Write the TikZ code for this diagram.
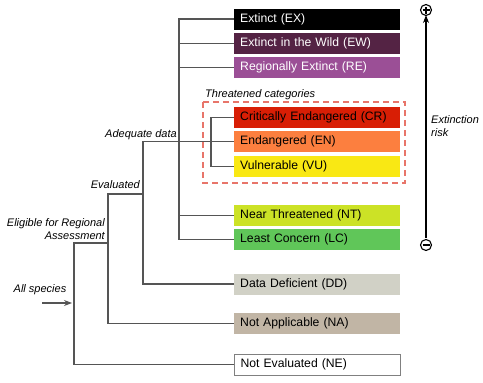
\documentclass[tikz,border=0pt]{standalone}
\usepackage{fontspec}
\setmainfont{Liberation Sans}
\usetikzlibrary{arrows.meta}
\definecolor{cEX}{HTML}{000000}
\definecolor{cEW}{HTML}{542344}
\definecolor{cRE}{HTML}{9B4F96}
\definecolor{cCR}{HTML}{D81E05}
\definecolor{cEN}{HTML}{FC7F3F}
\definecolor{cVU}{HTML}{F9E814}
\definecolor{cNT}{HTML}{CCE226}
\definecolor{cLC}{HTML}{60C659}
\definecolor{cDD}{HTML}{D1D1C6}
\definecolor{cNA}{HTML}{C1B5A5}
\definecolor{cdash}{HTML}{E8756A}
\definecolor{cline}{HTML}{555555}
\tikzset{
  cat/.style={anchor=west, minimum width=166pt, text width=154pt, align=left,
    minimum height=21pt, inner xsep=6pt, inner ysep=0pt,
    font=\fontsize{12.2}{14}\selectfont},
  lbl/.style={font=\fontsize{11}{13}\selectfont\itshape, inner sep=0pt},
  conn/.style={draw=cline, line width=1.1pt},
  sign/.style={circle, draw, line width=1.1pt, minimum size=11pt, inner sep=0pt},
}
\begin{document}
\begin{tikzpicture}[x=1pt,y=-1pt]
\useasboundingbox (0,0) rectangle (483,383);
% category boxes
\node[cat, fill=cEX, text=white] (EX) at (234,19) {Extinct (EX)};
\node[cat, fill=cEW, text=white] (EW) at (234,43.5) {Extinct in the Wild (EW)};
\node[cat, fill=cRE, text=white] (RE) at (234,67.5) {Regionally Extinct (RE)};
\node[cat, fill=cCR] (CR) at (234,117.5) {Critically Endangered (CR)};
\node[cat, fill=cEN] (EN) at (234,141.5) {Endangered (EN)};
\node[cat, fill=cVU] (VU) at (234,166.5) {Vulnerable (VU)};
\node[cat, fill=cNT] (NT) at (234,215.5) {Near Threatened (NT)};
\node[cat, fill=cLC] (LC) at (234,239.5) {Least Concern (LC)};
\node[cat, fill=cDD] (DD) at (234,284) {Data Deficient (DD)};
\node[cat, fill=cNA] (NA) at (234,323.5) {Not Applicable (NA)};
\node[cat, fill=white, draw=gray, line width=1pt] (NE) at (234,364.5) {Not Evaluated (NE)};
% threatened frame
\draw[cdash, line width=1.2pt, dash pattern=on 6pt off 4pt] (203,102) rectangle (405,183);
\node[lbl, anchor=west] (thr) at (205,95) {Threatened categories};
% junction coordinates
\coordinate (adx) at (179,0);
\coordinate (thx) at (211,0);
\coordinate (dvx) at (143,0);
\coordinate (ev) at (108,194);
\coordinate (el) at (74,243);
\coordinate (as) at (42,303);
% tree connectors
\draw[conn] (EX.west) -- (EX.west -| adx) -- (LC.west -| adx) -- (LC.west);
\draw[conn] (EW.west) -- (EW.west -| adx);
\draw[conn] (RE.west) -- (RE.west -| adx);
\draw[conn] (NT.west) -- (NT.west -| adx);
\draw[conn] (CR.west) -- (CR.west -| thx) -- (VU.west -| thx) -- (VU.west);
\draw[conn] (EN.west) -- (EN.west -| dvx) -- (DD.west -| dvx) -- (DD.west);
\draw[conn] (ev -| dvx) -- (ev) -- (NA.west -| ev) -- (NA.west);
\draw[conn] (el -| ev) -- (el) -- (NE.west -| el) -- (NE.west);
\draw[conn, -{Stealth[length=8pt,width=6pt]}, shorten >=2pt] (as) -- (as -| el);
% labels
\node[lbl, anchor=east] (adq) at (177,135) {Adequate data};
\node[lbl, anchor=east] (evl) at (140,185) {Evaluated};
\node[lbl, anchor=east, align=right] (elg) at (105,229) {Eligible for Regional\\Assessment};
\node[lbl] (alls) at (40,290) {All species};
% extinction risk
\node[sign, path picture={\draw[line width=1.2pt] ([xshift=-3.5pt]path picture bounding box.center) -- ([xshift=3.5pt]path picture bounding box.center) ([yshift=-3.5pt]path picture bounding box.center) -- ([yshift=3.5pt]path picture bounding box.center);}] (plus) at (426,10) {};
\node[sign, path picture={\draw[line width=1.2pt] ([xshift=-3.5pt]path picture bounding box.center) -- ([xshift=3.5pt]path picture bounding box.center);}] (minus) at (426,245) {};
\draw[line width=1.1pt, -{Stealth[length=8pt,width=6pt]}] (minus.north) ++(0,-1) -- ([yshift=1pt]plus.south);
\node[lbl, anchor=west, align=left] (risk) at (431,126) {Extinction\\risk};
\end{tikzpicture}
\end{document}
